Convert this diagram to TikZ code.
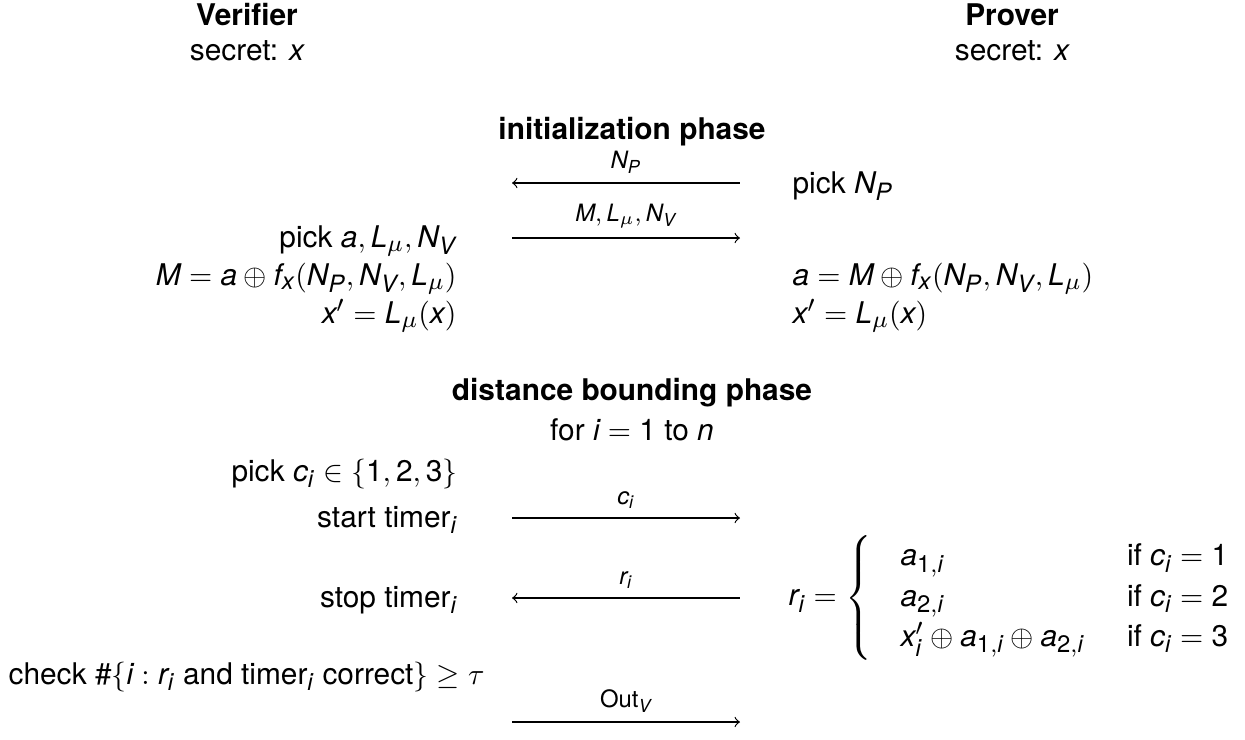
\documentclass[tikz,border=0pt]{standalone}
\usepackage{amsmath,amssymb}
\usepackage{fontspec}
\setmainfont{TeX Gyre Heros}
\usepackage[italic,basic]{mathastext}
\DeclareSymbolFont{sfdigits}{TU}{\rmdefault}{m}{n}
\AtBeginDocument{%
  \Umathcode`0=0 \symsfdigits `0 \Umathcode`1=0 \symsfdigits `1
  \Umathcode`2=0 \symsfdigits `2 \Umathcode`3=0 \symsfdigits `3 }
\usetikzlibrary{calc,positioning}

\begin{document}
\begin{tikzpicture}[x=0.335pt, y=-0.335pt, >=to,
    party/.style={font=\bfseries, anchor=base},
    phase/.style={font=\bfseries, anchor=base},
    vtext/.style={anchor=base east, inner sep=0pt},
    ptext/.style={anchor=base west, inner sep=0pt},
    msg/.style={font=\footnotesize, above, inner sep=3pt},
  ]
  \useasboundingbox (0,0) rectangle (1245,740);

  % the two parties
  \node[party] (verifier) at (247,25) {Verifier};
  \node[anchor=base] (vsecret) at (247,60) {secret: $x$};
  \node[party] (prover) at (1012,25) {Prover};
  \node[anchor=base] (psecret) at (1012,60) {secret: $x$};

  % initialization phase
  \node[phase] (init) at (632,139) {initialization phase};
  \coordinate (v1) at (512,183);
  \coordinate (p1) at (740,183);
  \draw[<-] (v1) -- node[msg] {$N_P$} (p1);
  \node[ptext] (pickNP) at (792,193) {pick $N_P$};

  \coordinate (v2) at (512,238);
  \coordinate (p2) at (740,238);
  \draw[->] (v2) -- node[msg] {$M,L_\mu,N_V$} (p2);
  \node[vtext] (picka) at (457,247) {pick $a, L_\mu, N_V$};
  \node[vtext] (vM) at (457,285) {$M = a \oplus f_x(N_P, N_V, L_\mu)$};
  \node[vtext] (vx) at (457,323) {$x' = L_\mu(x)$};
  \node[ptext] (pa) at (792,285) {$a = M \oplus f_x(N_P, N_V, L_\mu)$};
  \node[ptext] (px) at (792,323) {$x' = L_\mu(x)$};

  % distance bounding phase
  \node[phase] (db) at (632,400) {distance bounding phase};
  \node[anchor=base] (loop) at (632,440) {for $i = 1$ to $n$};
  \node[vtext] (pickc) at (458,481) {pick $c_i \in \{1,2,3\}$};

  \coordinate (v3) at (512,518);
  \coordinate (p3) at (740,518);
  \draw[->] (v3) -- node[msg] {$c_i$} (p3);
  \node[vtext] (start) at (458,527) {start timer$_i$};

  \coordinate (v4) at (512,598);
  \coordinate (p4) at (740,598);
  \draw[<-] (v4) -- node[msg] {$r_i$} (p4);
  \node[vtext] (stop) at (458,607) {stop timer$_i$};
  \node[anchor=west, inner sep=0pt] (resp) at (788,598) {%
    $r_i = \left\{\renewcommand{\arraystretch}{1.12}
      \begin{array}{@{\hspace{9.7pt}}l@{\hspace{14.3pt}}l@{}}
        a_{1,i} & \text{if } c_i = 1\\
        a_{2,i} & \text{if } c_i = 2\\
        x'_i \oplus a_{1,i} \oplus a_{2,i} & \text{if } c_i = 3
      \end{array}\right.$};

  \node[ptext] (check) at (8,684)
    {check $\#\{i : r_i$ and timer$_i$ correct$\} \geq \tau$};
  \coordinate (v5) at (512,722);
  \coordinate (p5) at (740,722);
  \draw[->] (v5) -- node[msg] {Out$_V$} (p5);
\end{tikzpicture}
\end{document}
